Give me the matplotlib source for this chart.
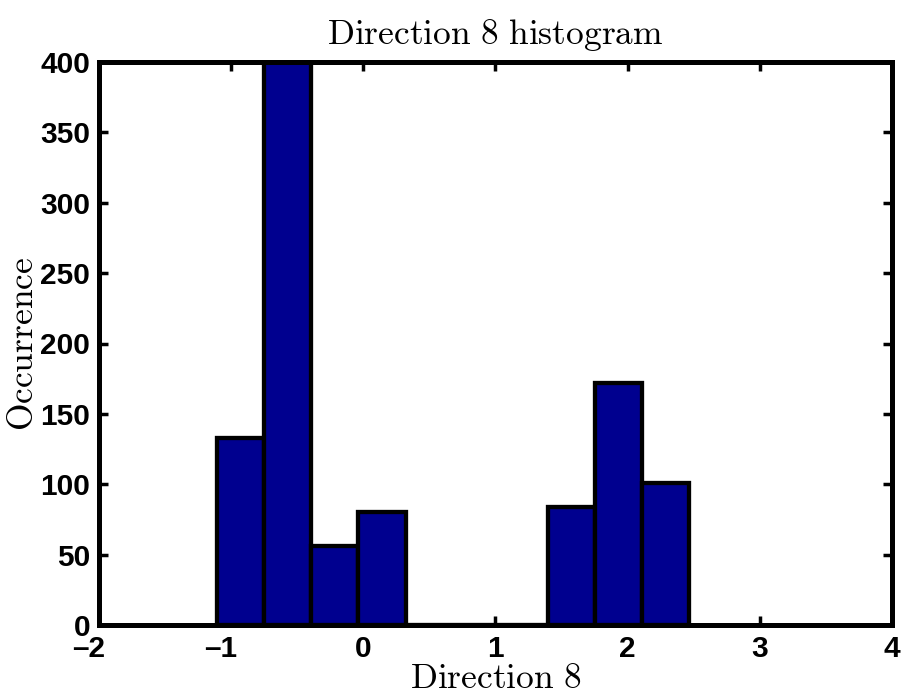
import numpy as np
import matplotlib
matplotlib.use("Agg")
import matplotlib.pyplot as plt
from matplotlib.transforms import ScaledTranslation

# Data
counts = [133, 400, 56, 80, 0, 0, 0, 84, 172, 101]
bin_lo, bin_hi = -1.112, 2.468
xticks = [-2, -1, 0, 1, 2, 3, 4]
xtick_labels = ["\u20132", "\u20131", "0", "1", "2", "3", "4"]
yticks = [0, 50, 100, 150, 200, 250, 300, 350, 400]

plt.rcParams['mathtext.fontset'] = 'cm'

W, H = 903, 694
fig = plt.figure(figsize=(W/100, H/100), dpi=100)
L, R, T, B = 99.3, 891.7, 62, 625
ax = fig.add_axes([L/W, (H-B)/H, (R-L)/W, (B-T)/H])

edges = np.linspace(bin_lo, bin_hi, len(counts) + 1)
widths = np.diff(edges)
ax.bar(edges[:-1], counts, width=widths, align='edge', color='#00008f',
       edgecolor='black', linewidth=3.1, zorder=2)

ax.set_xlim(-2, 4)
ax.set_ylim(0, 400)
ax.set_xticks(xticks)
ax.set_xticklabels(xtick_labels)
ax.set_yticks(yticks)

ax.tick_params(direction='in', length=6.5, width=2.5, top=True, right=True)
ax.tick_params(axis='x', pad=7)
ax.tick_params(axis='y', pad=6.5)
for lab in ax.get_xticklabels() + ax.get_yticklabels():
    lab.set_fontfamily('Liberation Sans')
    lab.set_fontweight('bold')
    lab.set_fontsize(21.5)
# MATLAB-style placement of negative labels (dash hangs left)
shift = ScaledTranslation(-11/100, 0, fig.dpi_scale_trans)
for lab in ax.get_xticklabels():
    if lab.get_text().startswith("\u2013"):
        lab.set_transform(lab.get_transform() + shift)

for s in ax.spines.values():
    s.set_linewidth(3.6)
    s.set_zorder(5)

ax.set_title(r"$\mathrm{Direction\ 8\ histogram}$", fontsize=25.5,
             y=(B-44)/(B-T), pad=0, va='baseline')
ax.set_xlabel(r"$\mathrm{Direction\ 8}$", fontsize=25.5, va='top')
ax.xaxis.set_label_coords(0.5, (B-661)/(B-T))
ax.set_ylabel(r"$\mathrm{Occurrence}$", fontsize=25.5)
ax.yaxis.set_label_coords((40-L)/(R-L), 0.5)

fig.savefig("out.png", dpi=100)
